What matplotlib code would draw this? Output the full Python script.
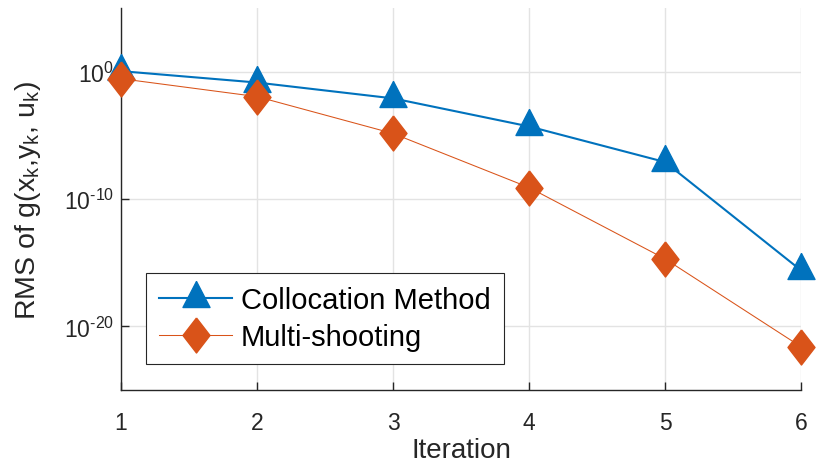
import numpy as np
import matplotlib
matplotlib.use("Agg")
import matplotlib.pyplot as plt
from matplotlib.ticker import FuncFormatter, NullLocator

# データ
iterations = [1, 2, 3, 4, 5, 6]
rms_colloc = [1.1, 1.4e-1, 8e-3, 5e-5, 8e-8, 2.5e-16]
rms_multi = [0.28, 1.1e-2, 1.4e-5, 8e-10, 2e-15, 2.5e-22]
labels = ["Collocation Method", "Multi-shooting"]

plt.rcParams['font.family'] = ['Liberation Sans', 'DejaVu Sans']
plt.rcParams['mathtext.fontset'] = 'custom'
plt.rcParams['mathtext.rm'] = 'Liberation Sans'
plt.rcParams['mathtext.it'] = 'Liberation Sans:italic'
plt.rcParams['mathtext.default'] = 'rm'

blue = '#0072BD'
orange = '#D95319'
axis_col = '#262626'

# MATLAB風マーカー(データ点がやや下寄り)
tri = [(0, 17), (-13.5, -9), (13.5, -9), (0, 17)]
dia = [(0, 17.5), (13.5, 0), (0, -17.5), (-13.5, 0), (0, 17.5)]

fig = plt.figure(figsize=(8.16, 4.64), dpi=100)
ax = fig.add_axes([121/816, 1-391/464, 680/816, 382/464])

ax.plot(iterations, rms_colloc, color=blue, lw=1.5, marker=tri, ms=24.5,
        mfc=blue, mec=blue, label=labels[0], clip_on=False, zorder=3)
ax.plot(iterations, rms_multi, color=orange, lw=0.75, marker=dia, ms=25.2,
        mfc=orange, mec=orange, label=labels[1], clip_on=False, zorder=4)

ax.set_yscale('log')
ax.set_xlim(1, 6)
ax.set_ylim(1e-25, 1e5)
ax.set_xticks(iterations)
ax.set_yticks([1e-20, 1e-10, 1e0])
ax.yaxis.set_minor_locator(NullLocator())

def log_fmt(v, pos):
    e = int(round(np.log10(v)))
    if e < 0:
        return r"$10^{\text{-}%d}$" % (-e)
    return r"$10^{%d}$" % e
ax.yaxis.set_major_formatter(FuncFormatter(log_fmt))

ax.grid(True, color='#e3e3e3', lw=1)
ax.set_axisbelow(True)
for s in ['top', 'right']:
    ax.spines[s].set_visible(False)
for s in ['left', 'bottom']:
    ax.spines[s].set_color(axis_col)
    ax.spines[s].set_linewidth(1.0)
ax.tick_params(direction='in', length=6, width=1, colors=axis_col,
               labelsize=16.5)
ax.tick_params(axis='x', pad=15)
ax.tick_params(axis='y', pad=5)

ax.set_xlabel("Iteration", fontsize=20, color=axis_col, labelpad=2)
ax.set_ylabel(r"RMS of g(x$_\mathrm{k}$,y$_\mathrm{k}$, u$_\mathrm{k}$)",
              fontsize=20.5, color=axis_col, labelpad=15)

leg = ax.legend(loc='lower left', bbox_to_anchor=(0.037, 0.068),
                borderaxespad=0, fontsize=21, fancybox=False,
                framealpha=1, edgecolor=axis_col, handlelength=2.5,
                borderpad=0.45, labelspacing=0.3, handletextpad=0.3)
leg.get_frame().set_linewidth(0.8)

fig.savefig("out.png", dpi=100)
